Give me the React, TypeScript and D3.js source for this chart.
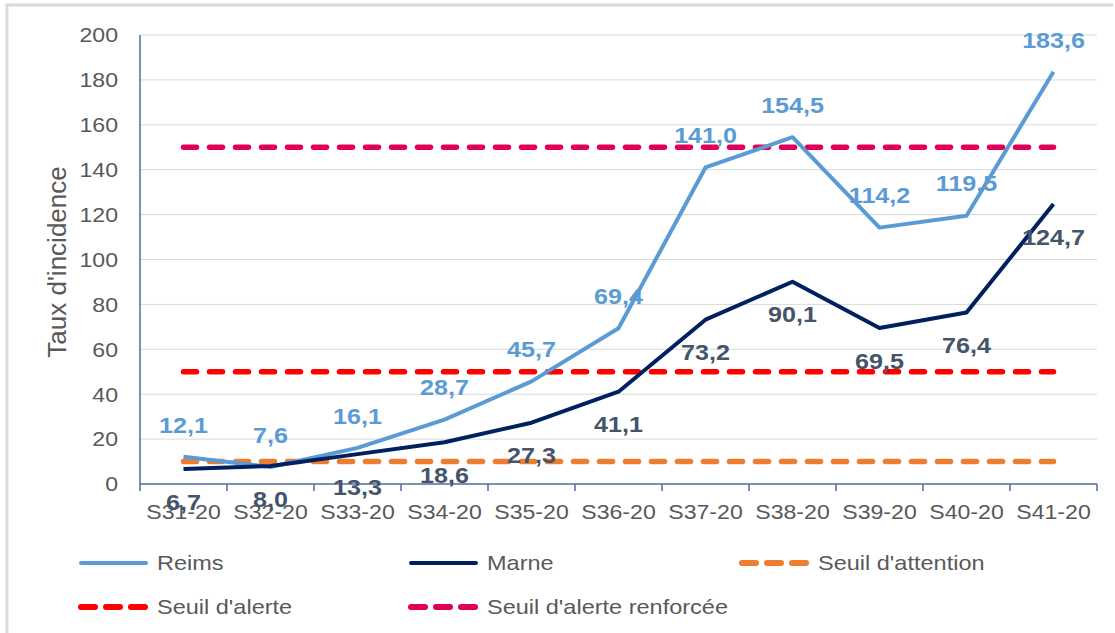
import * as d3 from "d3";
import { useRef, useEffect } from "react";

const weeks = ["S31-20", "S32-20", "S33-20", "S34-20", "S35-20", "S36-20", "S37-20", "S38-20", "S39-20", "S40-20", "S41-20"];
const reims = [12.1, 7.6, 16.1, 28.7, 45.7, 69.4, 141.0, 154.5, 114.2, 119.5, 183.6];
const marne = [6.7, 8.0, 13.3, 18.6, 27.3, 41.1, 73.2, 90.1, 69.5, 76.4, 124.7];
const thresholds = [
  { name: "Seuil d'attention", value: 10, color: "#ED7D31" },
  { name: "Seuil d'alerte", value: 50, color: "#FF0000" },
  { name: "Seuil d'alerte renforcée", value: 150, color: "#E0005A" },
];
const yTicks = [0, 20, 40, 60, 80, 100, 120, 140, 160, 180, 200];

export default function App({
  width = 1115,
  height = 633,
  marginTop = 35,
  marginRight = 18,
  marginBottom = 149,
  marginLeft = 140,
}) {
  const svgRef = useRef(null);

  useEffect(() => {
    const svg = d3.select(svgRef.current);
    svg.selectAll("*").remove();
    const font = "'Liberation Sans', Arial, sans-serif";
    const fmt = (v) => v.toFixed(1).replace(".", ",");
    const sx = 1.1; // text in the original is a little wider than Arial

    const xScale = d3
      .scaleBand()
      .domain(weeks)
      .range([marginLeft, width - marginRight]);

    const yScale = d3
      .scaleLinear()
      .domain([0, 200])
      .range([height - marginBottom, marginTop]);

    const cx = (i) => xScale(weeks[i]) + xScale.bandwidth() / 2;

    // frame (top and left only)
    svg.append("path")
      .attr("d", `M7,${height} L7,5 L${width - 2},5`)
      .attr("fill", "none")
      .attr("stroke", "#D9D9D9")
      .attr("stroke-width", 3);

    // gridlines
    svg.append("g")
      .selectAll("line")
      .data(yTicks.filter(d => d > 0))
      .join("line")
      .attr("x1", marginLeft)
      .attr("x2", width - marginRight)
      .attr("y1", d => yScale(d))
      .attr("y2", d => yScale(d))
      .attr("stroke", "#D9D9D9")
      .attr("stroke-width", 1);

    // y tick labels
    svg.append("g")
      .selectAll("text")
      .data(yTicks)
      .join("text")
      .attr("transform", d => `translate(118,${yScale(d)}) scale(${sx},1)`)
      .attr("dy", "0.35em")
      .attr("text-anchor", "end")
      .attr("fill", "#595959")
      .style("font-family", font)
      .style("font-size", "21px")
      .text(d => d);

    svg.append("text")
      .attr("transform", `translate(66,262) rotate(-90)`)
      .attr("text-anchor", "middle")
      .attr("fill", "#595959")
      .style("font-family", font)
      .style("font-size", "26px")
      .text("Taux d'incidence");

    // axes
    const axisColor = "#4F6AA0";
    svg.append("line")
      .attr("x1", marginLeft).attr("x2", marginLeft)
      .attr("y1", yScale(200)).attr("y2", yScale(0))
      .attr("stroke", axisColor).attr("stroke-width", 1.5);
    svg.append("line")
      .attr("x1", marginLeft).attr("x2", width - marginRight)
      .attr("y1", yScale(0)).attr("y2", yScale(0))
      .attr("stroke", axisColor).attr("stroke-width", 1.5);
    svg.append("g")
      .selectAll("line")
      .data(d3.range(weeks.length + 1))
      .join("line")
      .attr("x1", i => marginLeft + i * xScale.step())
      .attr("x2", i => marginLeft + i * xScale.step())
      .attr("y1", yScale(0))
      .attr("y2", yScale(0) + 7)
      .attr("stroke", axisColor)
      .attr("stroke-width", 1.5);

    svg.append("g")
      .selectAll("text")
      .data(weeks)
      .join("text")
      .attr("transform", d => `translate(${xScale(d) + xScale.bandwidth() / 2},${yScale(0) + 35}) scale(${sx},1)`)
      .attr("text-anchor", "middle")
      .attr("fill", "#595959")
      .style("font-family", font)
      .style("font-size", "21px")
      .text(d => d);

    // threshold lines
    thresholds.forEach(t => {
      svg.append("line")
        .attr("x1", cx(0))
        .attr("x2", cx(weeks.length - 1))
        .attr("y1", yScale(t.value))
        .attr("y2", yScale(t.value))
        .attr("stroke", t.color)
        .attr("stroke-width", 5.5)
        .attr("stroke-dasharray", "13 13")
        .attr("stroke-linecap", "round");
    });

    const line = d3.line()
      .x((d, i) => cx(i))
      .y(d => yScale(d));

    svg.append("path")
      .datum(reims)
      .attr("fill", "none")
      .attr("stroke", "#5B9BD5")
      .attr("stroke-width", 4)
      .attr("stroke-linejoin", "round")
      .attr("d", line);

    svg.append("path")
      .datum(marne)
      .attr("fill", "none")
      .attr("stroke", "#002060")
      .attr("stroke-width", 4)
      .attr("stroke-linejoin", "round")
      .attr("d", line);

    // data labels
    svg.append("g")
      .selectAll("text")
      .data(reims)
      .join("text")
      .attr("transform", (d, i) => `translate(${cx(i)},${yScale(d) - 32}) scale(1.14,1)`)
      .attr("dy", "0.35em")
      .attr("text-anchor", "middle")
      .attr("fill", "#5B9BD5")
      .style("font-family", font)
      .style("font-size", "22px")
      .style("font-weight", "bold")
      .text(d => fmt(d));

    svg.append("g")
      .selectAll("text")
      .data(marne)
      .join("text")
      .attr("transform", (d, i) => `translate(${cx(i)},${yScale(d) + 33}) scale(1.14,1)`)
      .attr("dy", "0.35em")
      .attr("text-anchor", "middle")
      .attr("fill", "#44546A")
      .style("font-family", font)
      .style("font-size", "22px")
      .style("font-weight", "bold")
      .text(d => fmt(d));

    // legend
    const legendItems = [
      { name: "Reims", color: "#5B9BD5", dashed: false, x: 78, y: 563 },
      { name: "Marne", color: "#002060", dashed: false, x: 408, y: 563 },
      { name: thresholds[0].name, color: thresholds[0].color, dashed: true, x: 739, y: 563 },
      { name: thresholds[1].name, color: thresholds[1].color, dashed: true, x: 78, y: 607 },
      { name: thresholds[2].name, color: thresholds[2].color, dashed: true, x: 408, y: 607 },
    ];
    const legend = svg.append("g");
    legendItems.forEach(it => {
      legend.append("line")
        .attr("x1", it.x + 3)
        .attr("x2", it.x + 68)
        .attr("y1", it.y)
        .attr("y2", it.y)
        .attr("stroke", it.color)
        .attr("stroke-width", it.dashed ? 6 : 4)
        .attr("stroke-linecap", "round")
        .attr("stroke-dasharray", it.dashed ? "14 11" : null);
      legend.append("text")
        .attr("transform", `translate(${it.x + 79},${it.y}) scale(1.12,1)`)
        .attr("dy", "0.35em")
        .attr("fill", "#595959")
        .style("font-family", font)
        .style("font-size", "21px")
        .text(it.name);
    });
  }, [width, height, marginTop, marginRight, marginBottom, marginLeft]);

  return (
    <div style={{ position: "absolute", left: 0, top: 0 }}>
      <svg ref={svgRef} width={width} height={height} style={{ display: "block", background: "#fff" }}></svg>
    </div>
  );
}
